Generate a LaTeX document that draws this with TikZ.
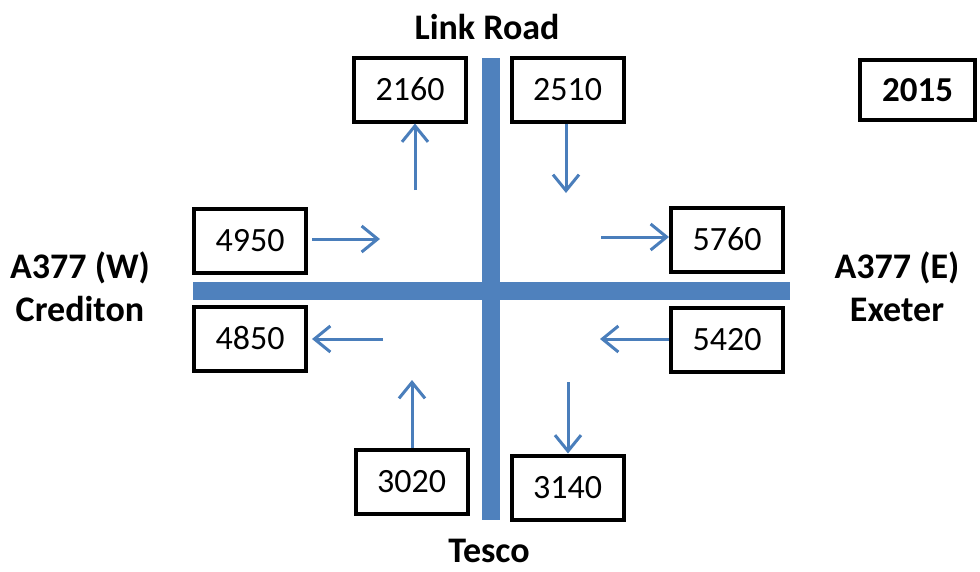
\documentclass[tikz,border=0pt]{standalone}
\usepackage{fontspec}
\setmainfont{Carlito}
\usetikzlibrary{arrows.meta}
\definecolor{roadblue}{RGB}{79,129,189}
\definecolor{flowblue}{RGB}{74,126,187}
\tikzset{
  count/.style={draw=black, line width=4pt, fill=white, inner sep=0pt,
    minimum width=112pt, minimum height=64pt, font=\fontsize{34}{40}\selectfont},
  roadname/.style={font=\fontsize{36}{43}\selectfont\bfseries, align=center, inner sep=0pt},
  flow/.style={draw=flowblue, line width=3pt,
    -{Straight Barb[length=16pt,width=26pt,line width=3pt]}}
}
\begin{document}
\begin{tikzpicture}[x=1pt,y=-1pt]
  \useasboundingbox (0,0) rectangle (980,571);

  % Roads
  \fill[roadblue] (482,58) rectangle (500,520);
  \fill[roadblue] (193,282) rectangle (790,300);

  % Road names
  \node[roadname] (link) at (487,27) {Link Road};
  \node[roadname] (tesco) at (489,551) {Tesco};
  \node[roadname] (west) at (80,287) {A377 (W)\\Crediton};
  \node[roadname] (east) at (897,287) {A377 (E)\\Exeter};

  % Count boxes
  \node[count] (b2160) at (410,89.5) {2160};
  \node[count] (b2510) at (567.5,89.5) {2510};
  \node[count] (b4950) at (250,240.5) {4950};
  \node[count] (b4850) at (250,338.5) {4850};
  \node[count] (b5760) at (727,239.5) {5760};
  \node[count] (b5420) at (727,339.5) {5420};
  \node[count] (b3020) at (411.5,482) {3020};
  \node[count] (b3140) at (567.5,487.5) {3140};
  \node[count, font=\fontsize{35}{40}\selectfont\bfseries, minimum width=115pt,
    minimum height=60pt] (year) at (917.5,90) {2015};

  % Free ends of the flow arrows
  \coordinate (f2160) at (415,190);
  \coordinate (f2510) at (566,193);
  \coordinate (f4950) at (380,239);
  \coordinate (f4850) at (383,339);
  \coordinate (f5760) at (601,237);
  \coordinate (f5420) at (600,339);
  \coordinate (f3020) at (412,380);
  \coordinate (f3140) at (568,382);

  % Flows
  \draw[flow] (f2160) -- (f2160 |- b2160.south);
  \draw[flow] (f2510 |- b2510.south) -- (f2510);
  \draw[flow, shorten <=4pt] (b4950.east |- f4950) -- (f4950);
  \draw[flow, shorten >=4pt] (f4850) -- (b4850.east |- f4850);
  \draw[flow] (f5760) -- (b5760.west |- f5760);
  \draw[flow] (b5420.west |- f5420) -- (f5420);
  \draw[flow] (f3020 |- b3020.north) -- (f3020);
  \draw[flow] (f3140) -- (f3140 |- b3140.north);
\end{tikzpicture}
\end{document}
